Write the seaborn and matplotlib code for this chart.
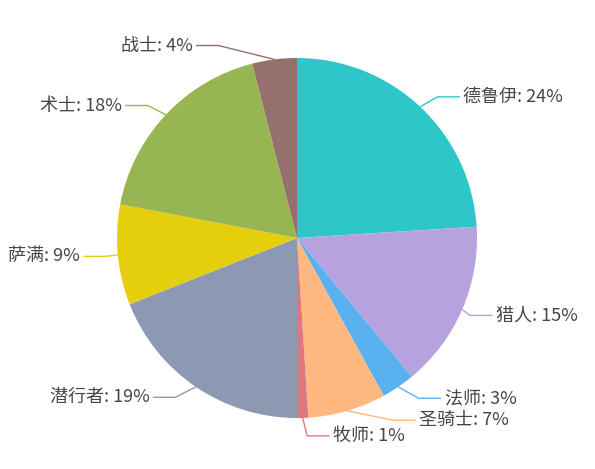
"""
Pie chart: class share distribution (recreated with seaborn / matplotlib)
"""
import numpy as np
import matplotlib
matplotlib.use("Agg")
import matplotlib.pyplot as plt
import seaborn as sns

# ── Data ─────────────────────────────────────────────────────
classes = ["德鲁伊", "猎人", "法师", "圣骑士", "牧师", "潜行者", "萨满", "术士", "战士"]
shares = [24, 15, 3, 7, 1, 19, 9, 18, 4]
slice_colors = ["#2ec7c9", "#b6a2de", "#5ab1ef", "#ffb980", "#d87a80",
                "#8d98b3", "#e5cf0d", "#97b552", "#95706d"]

# label nudges (pixels) to mimic the overlap adjustment of the original
label_dx = [7, -6, 12, 42, 4, -12, 3, -7, -54]
label_dy = [1, 0, -1, -5, 3, -2, 0, 1, 1]

# ── Style ────────────────────────────────────────────────────
sns.set_theme(style="white")
plt.rcParams["font.family"] = ["Noto Sans CJK SC", "DejaVu Sans"]

W, H = 595, 469
fig = plt.figure(figsize=(W / 100, H / 100), dpi=100)
ax = fig.add_axes([0, 0, 1, 1])

cx, cy, R = 297, H - 238, 180
palette = sns.color_palette(slice_colors)
wedges, _ = ax.pie(shares, colors=palette, startangle=90, counterclock=False,
                   center=(cx, cy), radius=R, wedgeprops=dict(linewidth=0))

# ── Labels with leader lines ─────────────────────────────────
len1, len2, gap = 15, 22, 4
for w, name, val, col, dx, dy in zip(wedges, classes, shares, palette, label_dx, label_dy):
    ang = np.deg2rad((w.theta1 + w.theta2) / 2)
    c, s = np.cos(ang), np.sin(ang)
    side = 1 if c >= 0 else -1
    x0, y0 = cx + R * c, cy + R * s
    x1 = cx + (R + len1) * c + dx
    y1 = cy + (R + len1) * s - dy
    x2 = x1 + side * len2
    ax.plot([x0, x1, x2], [y0, y1, y1], color=col, lw=1, solid_capstyle="round")
    ax.text(x2 + side * gap, y1, f"{name}: {val}%", ha="left" if side > 0 else "right",
            va="center", fontsize=13, color="#464646")

ax.set_xlim(0, W)
ax.set_ylim(0, H)
ax.set_aspect("equal")
ax.axis("off")

fig.savefig("out.png", dpi=100)
plt.close(fig)
